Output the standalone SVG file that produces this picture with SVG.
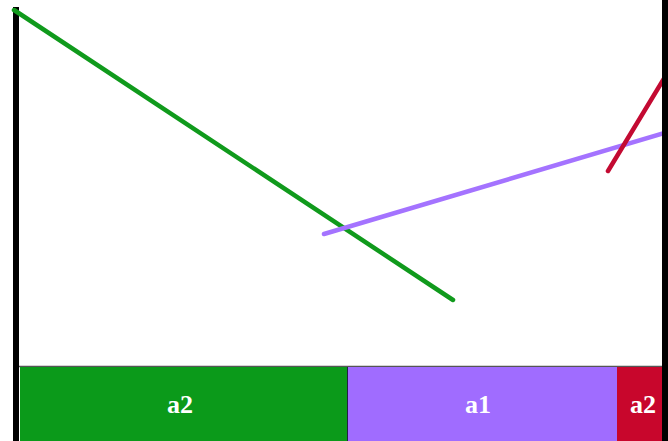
<svg xmlns="http://www.w3.org/2000/svg" width="668" height="441" viewBox="0 0 668 441">
<style>
.lbl{font-family:"Liberation Serif","DejaVu Serif",serif;font-size:26px;fill:#fff;text-anchor:middle;font-weight:bold}
.ln{stroke-width:4.5;stroke-linecap:round;fill:none}
</style>
<rect width="668" height="441" fill="#fff"/>
<g id="axes">
<rect x="13" y="7" width="6" height="434" fill="#000"/>
<line x1="19" y1="366.5" x2="662" y2="366.5" stroke="#555" stroke-width="1.5"/>
</g>
<g id="bar-a2-green"><rect x="20" y="367" width="327" height="74" fill="#0b9a1a"/><text class="lbl" x="180" y="413">a2</text></g>
<g id="bar-a1"><rect x="347" y="367" width="270" height="74" fill="#a06cff"/><line x1="347.5" y1="367" x2="347.5" y2="441" stroke="#224" stroke-width="1"/><text class="lbl" x="478" y="413">a1</text></g>
<g id="bar-a2-red"><rect x="617" y="367" width="45" height="74" fill="#c8062c"/><text class="lbl" x="643" y="413">a2</text></g>
<g id="connectors">
<line class="ln" x1="14" y1="10" x2="453" y2="300" stroke="#109a1c"/>
<line class="ln" x1="324" y1="234" x2="668" y2="132" stroke="#a473ff"/>
<line class="ln" x1="608" y1="171" x2="668" y2="72" stroke="#c30a32"/>
</g>
<rect id="right-axis" x="662" y="0" width="6" height="441" fill="#000"/>
</svg>
